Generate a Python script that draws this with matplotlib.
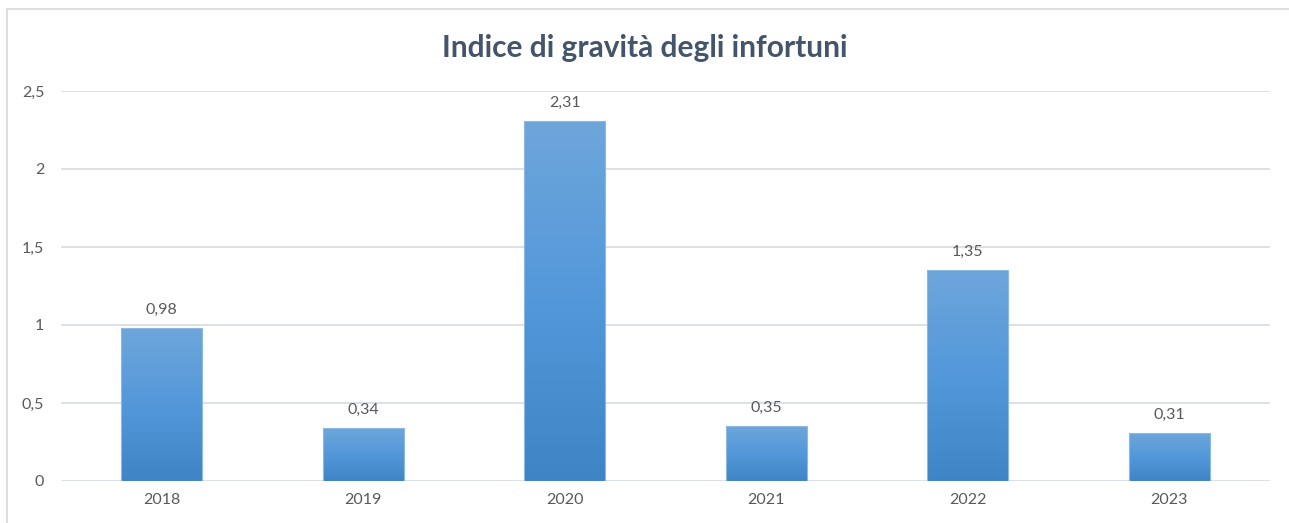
import matplotlib
matplotlib.use("Agg")
import matplotlib.pyplot as plt
import numpy as np
from matplotlib.colors import LinearSegmentedColormap
from matplotlib.lines import Line2D

years = ["2018", "2019", "2020", "2021", "2022", "2023"]
values = [0.98, 0.34, 2.31, 0.35, 1.35, 0.31]
y_ticks = [0, 0.5, 1, 1.5, 2, 2.5]
y_tick_labels = ["0", "0,5", "1", "1,5", "2", "2,5"]
title = "Indice di gravità degli infortuni"

plt.rcParams["font.family"] = ["Lato", "DejaVu Sans"]
text_color = "#595959"
title_color = "#44546A"
grid_color = "#D9DEE6"

fig = plt.figure(figsize=(12.89, 5.23), dpi=100)
fig.patch.set_facecolor("white")
ax = fig.add_axes([61 / 1289, 1 - 481 / 523, (1270 - 61) / 1289, (481 - 91) / 523])

x = np.arange(len(years))
bars = ax.bar(x, values, width=0.4, color="none", edgecolor="#8DB8E2",
              linewidth=0.8, zorder=3)

# vertical gradient fill for each bar
cmap = LinearSegmentedColormap.from_list(
    "bar_grad", ["#3F84C4", "#5398DA", "#6EA6DB"])
grad = np.linspace(0, 1, 256).reshape(-1, 1)
for b in bars:
    x0, w, h = b.get_x(), b.get_width(), b.get_height()
    im = ax.imshow(grad, cmap=cmap, origin="lower", aspect="auto",
                   extent=[x0, x0 + w, 0, h], zorder=2)
    im.set_clip_path(b)

for xi, v in zip(x, values):
    ax.annotate(f"{v:.2f}".replace(".", ","), (xi, v), xytext=(0, 8),
                textcoords="offset points", ha="center", va="bottom",
                fontsize=11.5, color=text_color)

ax.set_xlim(-0.5, len(years) - 0.5)
ax.set_ylim(0, 2.5)
ax.set_yticks(y_ticks)
ax.set_yticklabels(y_tick_labels)
ax.set_xticks(x)
ax.set_xticklabels(years)
ax.tick_params(axis="both", length=0, labelsize=11.5, labelcolor=text_color)
ax.tick_params(axis="y", pad=12)
ax.tick_params(axis="x", pad=9)
ax.grid(axis="y", color=grid_color, linewidth=1.3, zorder=0)
ax.set_axisbelow(True)
for s in ax.spines.values():
    s.set_visible(False)

fig.text(0.5, 1 - 48 / 523, title, ha="center", va="center",
         fontsize=21.5, fontweight="bold", color=title_color)

# chart frame
fig.add_artist(Line2D([7 / 1289, 1.0], [1 - 9 / 523] * 2,
                      transform=fig.transFigure, color="#DADFE6", linewidth=1.5))
fig.add_artist(Line2D([7 / 1289] * 2, [0, 1 - 9 / 523],
                      transform=fig.transFigure, color="#DADFE6", linewidth=1.5))

fig.savefig("out.png", dpi=100)
